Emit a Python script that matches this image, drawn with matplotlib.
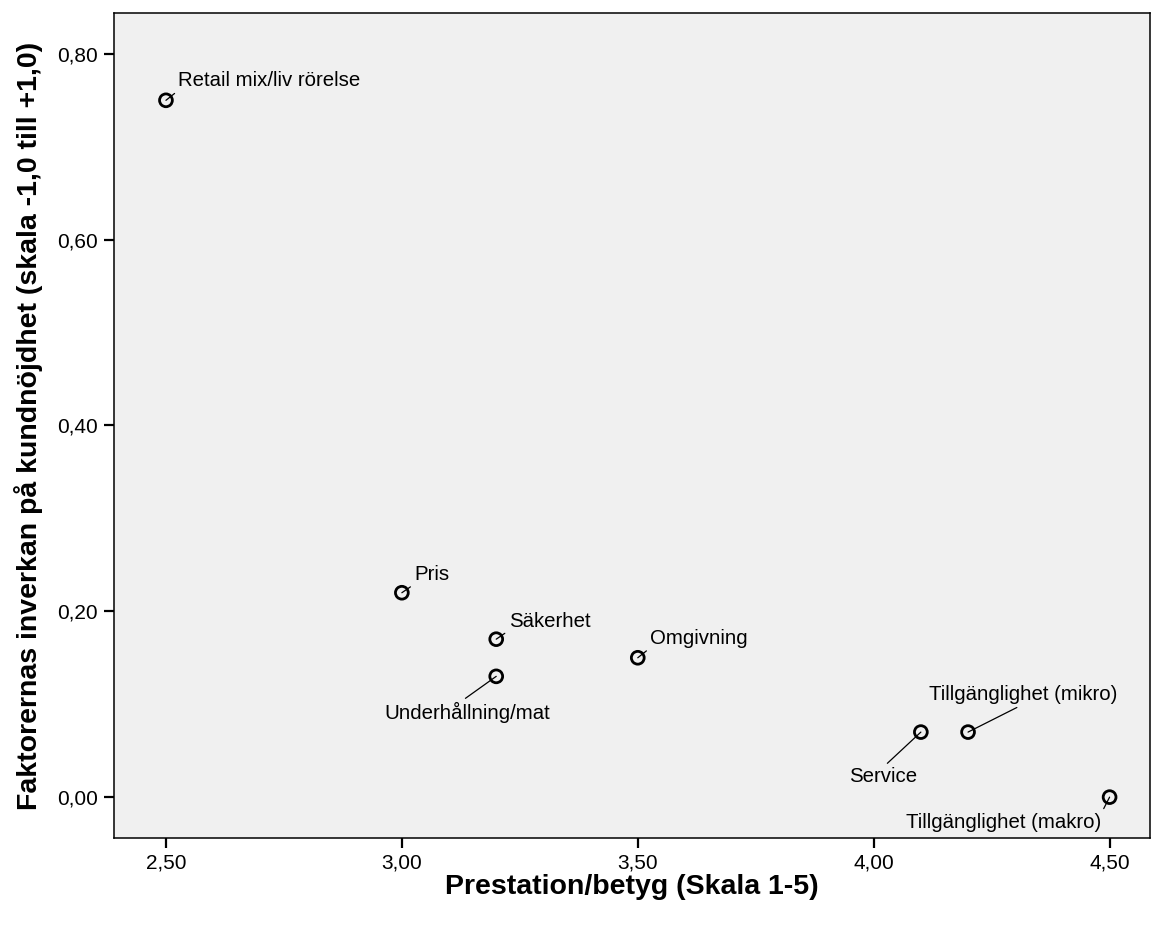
import matplotlib
matplotlib.use("Agg")
import matplotlib.pyplot as plt
from matplotlib.ticker import FuncFormatter

# data
faktorer = ["Retail mix/liv rörelse", "Pris", "Säkerhet", "Underhållning/mat",
            "Omgivning", "Service", "Tillgänglighet (mikro)", "Tillgänglighet (makro)"]
prestation = [2.50, 3.00, 3.20, 3.20, 3.50, 4.10, 4.20, 4.50]
inverkan = [0.75, 0.22, 0.17, 0.13, 0.15, 0.07, 0.07, 0.00]

x_ticks = [2.5, 3.0, 3.5, 4.0, 4.5]
y_ticks = [0.0, 0.2, 0.4, 0.6, 0.8]

# label placement: offset (points), ha, va, relpos for the leader line
etiketter = {
    "Retail mix/liv rörelse": ((9, 14), "left", "center", (0, 0)),
    "Pris": ((9, 13), "left", "center", (0, 0)),
    "Säkerhet": ((9, 13), "left", "center", (0, 0)),
    "Omgivning": ((9, 14), "left", "center", (0, 0)),
    "Underhållning/mat": ((-21, -26), "center", "center", (0.46, 1)),
    "Service": ((-27, -32), "center", "center", (0.5, 1)),
    "Tillgänglighet (mikro)": ((40, 27), "center", "center", (0.5, 0)),
    "Tillgänglighet (makro)": ((-76, -18), "center", "center", (1, 1)),
}

plt.rcParams["font.family"] = ["Liberation Sans", "DejaVu Sans"]

fig = plt.figure(figsize=(11.52, 9.27), dpi=100)
ax = fig.add_axes([0.099, 0.096, 0.899, 0.890])
ax.set_facecolor("#f0f0f0")

ax.scatter(prestation, inverkan, s=85, facecolors="none", edgecolors="black",
           linewidths=2.0, zorder=3)

for namn, x, y in zip(faktorer, prestation, inverkan):
    off, ha, va, rel = etiketter[namn]
    ax.annotate(namn, (x, y), xytext=off, textcoords="offset points",
                ha=ha, va=va, fontsize=14.7,
                arrowprops=dict(arrowstyle="-", color="black", lw=0.9,
                                shrinkA=1, shrinkB=0, relpos=rel))

ax.set_xlim(2.39, 4.585)
ax.set_ylim(-0.044, 0.844)
ax.set_xticks(x_ticks)
ax.set_yticks(y_ticks)
komma = FuncFormatter(lambda v, p: f"{v:.2f}".replace(".", ","))
ax.xaxis.set_major_formatter(komma)
ax.yaxis.set_major_formatter(komma)
ax.tick_params(direction="out", length=7.5, width=1.6, labelsize=15, pad=4)

for s in ax.spines.values():
    s.set_linewidth(1.1)
    s.set_color("black")

ax.set_xlabel("Prestation/betyg (Skala 1-5)", fontsize=20.5, fontweight="bold", labelpad=1)
ax.set_ylabel("Faktorernas inverkan på kundnöjdhet (skala -1,0 till +1,0)",
              fontsize=20.5, fontweight="bold", labelpad=10)

fig.savefig("out.png", dpi=100)
